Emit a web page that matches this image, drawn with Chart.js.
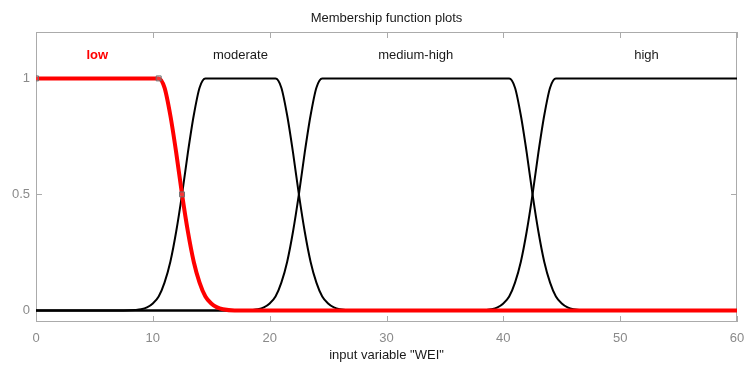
<!DOCTYPE html>
<html>
<head>
<meta charset="utf-8">
<title>Membership function plots</title>
<script src="https://cdn.jsdelivr.net/npm/chart.js@4.4.0/dist/chart.umd.min.js"></script>
<style>
  html, body { margin: 0; padding: 0; background: #fff; }
  canvas { display: block; }
</style>
</head>
<body>
<canvas id="mf-chart" width="744" height="365"></canvas>
<script>
// Membership functions of the input variable "WEI"
const mfNames = ['low', 'moderate', 'medium-high', 'high'];
const mfLabelX = [5.25, 17.5, 32.5, 52.25];
const mfLabelY = 1.1;

const lowX = [0, 10.5, 11, 11.5, 12, 12.5, 13, 13.5, 14, 14.5, 15, 15.5, 16, 17, 18, 60];
const lowY = [1, 1, 0.96, 0.84, 0.68, 0.5, 0.34, 0.21, 0.12, 0.06, 0.03, 0.013, 0.005, 0, 0, 0];

const moderateX = [0, 7.5, 8.5, 9, 9.5, 10, 10.5, 11, 11.5, 12, 12.5, 13, 13.5, 14, 14.5,
                   20.5, 21, 21.5, 22, 22.5, 23, 23.5, 24, 24.5, 25, 25.5, 26, 27, 60];
const moderateY = [0, 0, 0.002, 0.005, 0.013, 0.03, 0.06, 0.12, 0.21, 0.34, 0.5, 0.68, 0.84, 0.96, 1,
                   1, 0.96, 0.84, 0.68, 0.5, 0.34, 0.21, 0.12, 0.06, 0.03, 0.013, 0.005, 0, 0];

const medHighX = [0, 17.5, 18.5, 19, 19.5, 20, 20.5, 21, 21.5, 22, 22.5, 23, 23.5, 24, 24.5,
                  40.5, 41, 41.5, 42, 42.5, 43, 43.5, 44, 44.5, 45, 45.5, 46, 47, 60];
const medHighY = [0, 0, 0.002, 0.005, 0.013, 0.03, 0.06, 0.12, 0.21, 0.34, 0.5, 0.68, 0.84, 0.96, 1,
                  1, 0.96, 0.84, 0.68, 0.5, 0.34, 0.21, 0.12, 0.06, 0.03, 0.013, 0.005, 0, 0];

const highX = [0, 37.5, 38.5, 39, 39.5, 40, 40.5, 41, 41.5, 42, 42.5, 43, 43.5, 44, 44.5, 60];
const highY = [0, 0, 0.002, 0.005, 0.013, 0.03, 0.06, 0.12, 0.21, 0.34, 0.5, 0.68, 0.84, 0.96, 1, 1];

// parameter markers of the selected function
const markerX = [0, 10.5, 12.5];
const markerY = [1, 1, 0.5];

const xTicks = [0, 10, 20, 30, 40, 50, 60];
const yTicks = [0, 0.5, 1];

const FONT = '"Liberation Sans", Arial, Helvetica, sans-serif';
const AXIS_GRAY = '#ababab';
const TICK_TEXT = '#8a8a8a';

function toPoints(xs, ys) {
    return xs.map((x, i) => ({ x: x, y: ys[i] }));
}

function curve(label, xs, ys, color, width, order) {
    return {
        label: label,
        data: toPoints(xs, ys),
        borderColor: color,
        backgroundColor: color,
        borderWidth: width,
        pointRadius: 0,
        cubicInterpolationMode: 'monotone',
        fill: false,
        order: order
    };
}

// box with inward ticks, title, axis title and function names
const framePlugin = {
    id: 'frame',
    beforeDatasetsDraw(chart) {
        const { ctx, chartArea: a, scales } = chart;
        ctx.save();
        ctx.strokeStyle = AXIS_GRAY;
        ctx.lineWidth = 1;
        ctx.strokeRect(a.left + 0.5, a.top + 0.5, a.right - a.left - 1, a.bottom - a.top - 1);
        ctx.beginPath();
        xTicks.forEach(v => {
            const px = Math.round(scales.x.getPixelForValue(v)) + 0.5;
            ctx.moveTo(px, a.bottom);
            ctx.lineTo(px, a.bottom - 6);
            ctx.moveTo(px, a.top);
            ctx.lineTo(px, a.top + 6);
        });
        yTicks.forEach(v => {
            const py = Math.round(scales.y.getPixelForValue(v)) + 0.5;
            ctx.moveTo(a.left, py);
            ctx.lineTo(a.left + 6, py);
            ctx.moveTo(a.right, py);
            ctx.lineTo(a.right - 6, py);
        });
        ctx.stroke();
        ctx.restore();
    },
    afterDatasetsDraw(chart) {
        const { ctx, chartArea: a, scales } = chart;
        ctx.save();
        ctx.textAlign = 'center';
        ctx.textBaseline = 'middle';
        mfNames.forEach((name, i) => {
            const low = i === 0;
            ctx.font = (low ? 'bold ' : '') + '13px ' + FONT;
            ctx.fillStyle = low ? '#ff0000' : '#1a1a1a';
            ctx.fillText(name, scales.x.getPixelForValue(mfLabelX[i]), scales.y.getPixelForValue(mfLabelY));
        });
        const cx = (a.left + a.right) / 2;
        ctx.font = '13px ' + FONT;
        ctx.fillStyle = '#1a1a1a';
        ctx.fillText('Membership function plots', cx, a.top - 14);
        ctx.fillText('input variable "WEI"', cx, a.bottom + 33);
        ctx.restore();
    }
};

new Chart(document.getElementById('mf-chart').getContext('2d'), {
    type: 'line',
    data: {
        datasets: [
            {
                label: 'params',
                data: toPoints(markerX, markerY),
                showLine: false,
                pointStyle: 'rect',
                pointRadius: 3.5,
                pointBorderWidth: 1,
                pointBorderColor: '#6e6e6e',
                pointBackgroundColor: 'rgba(210,210,210,0.25)',
                order: 0
            },
            curve('low', lowX, lowY, '#ff0000', 4, 1),
            curve('moderate', moderateX, moderateY, '#000000', 2, 2),
            curve('medium-high', medHighX, medHighY, '#000000', 2, 3),
            curve('high', highX, highY, '#000000', 2, 4)
        ]
    },
    options: {
        responsive: false,
        devicePixelRatio: 1,
        animation: false,
        layout: { padding: { top: 32, right: 7, left: 0, bottom: 0 } },
        plugins: {
            legend: { display: false },
            tooltip: { enabled: false }
        },
        scales: {
            x: {
                type: 'linear',
                min: 0,
                max: 60,
                afterBuildTicks: s => { s.ticks = xTicks.map(v => ({ value: v })); },
                afterFit: s => { s.height = 43; s.paddingLeft = 0; s.paddingRight = 0; },
                grid: { display: false, drawTicks: false },
                border: { display: false },
                ticks: { padding: 9, color: TICK_TEXT, font: { family: FONT, size: 13 }, maxRotation: 0,
                         callback: v => String(v) }
            },
            y: {
                min: -0.05,
                max: 1.2,
                afterBuildTicks: s => { s.ticks = yTicks.map(v => ({ value: v })); },
                afterFit: s => { s.width = 36; s.paddingTop = 0; s.paddingBottom = 0; },
                grid: { display: false, drawTicks: false },
                border: { display: false },
                ticks: { padding: 6, color: TICK_TEXT, font: { family: FONT, size: 13 },
                         callback: v => String(v) }
            }
        }
    },
    plugins: [framePlugin]
});
</script>
</body>
</html>
